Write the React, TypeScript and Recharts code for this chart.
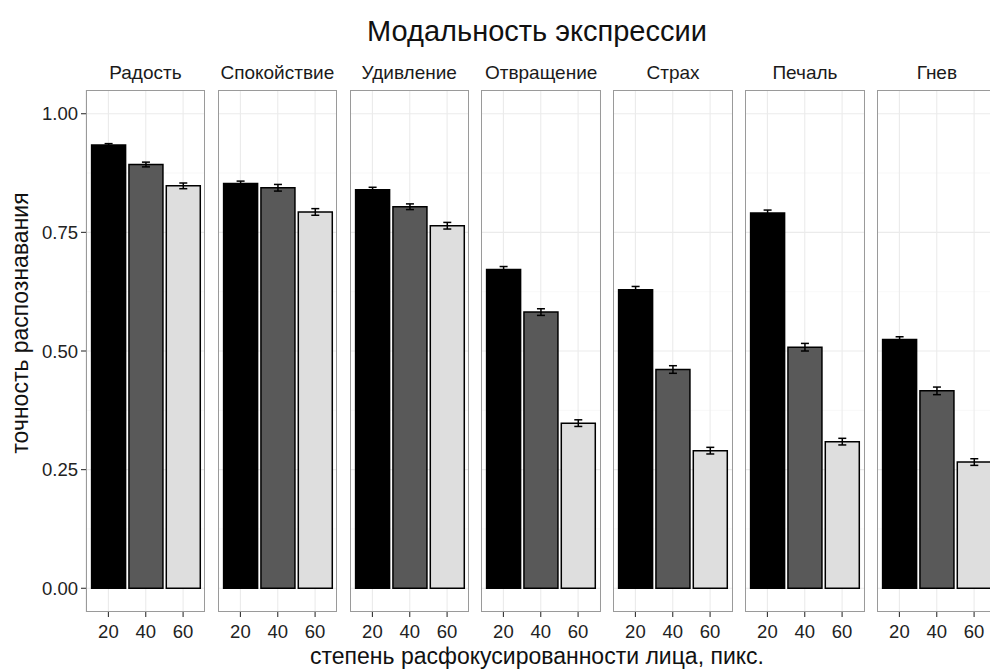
import { BarChart, Bar, XAxis, YAxis, CartesianGrid, Cell, ErrorBar } from 'recharts';

const emotions = ['Радость', 'Спокойствие', 'Удивление', 'Отвращение', 'Страх', 'Печаль', 'Гнев'];
const levels = ['20', '40', '60'];

// mean accuracy per blur level, one value per emotion
const acc20 = [0.934, 0.853, 0.840, 0.672, 0.629, 0.791, 0.524];
const acc40 = [0.893, 0.844, 0.804, 0.582, 0.461, 0.508, 0.416];
const acc60 = [0.848, 0.793, 0.764, 0.348, 0.290, 0.309, 0.266];

// standard errors
const err20 = [0.003, 0.005, 0.005, 0.006, 0.007, 0.006, 0.006];
const err40 = [0.005, 0.007, 0.006, 0.007, 0.008, 0.008, 0.008];
const err60 = [0.006, 0.007, 0.007, 0.007, 0.007, 0.007, 0.007];

const yTicks = [0, 0.25, 0.5, 0.75, 1];
const yMinor = [0.125, 0.375, 0.625, 0.875];

const fills = ['#000000', '#595959', '#dedede'];
const font = '"Liberation Sans", Arial, Helvetica, sans-serif';

// panel geometry
const PANEL_X0 = 85.7;
const PANEL_STEP = 131.9;
const PW = 119.5;
const PTOP = 90;
const PH = 522;
const YAXIS_W = 60;
const XAXIS_H = 40;
const pad = (PW / 3.2) * 0.1;

function facetData(i: number) {
  const accs = [acc20, acc40, acc60];
  const errs = [err20, err40, err60];
  return levels.map((lv, j) => ({ level: lv, value: accs[j][i], err: errs[j][i] }));
}

function Facet({ index }: { index: number }) {
  const first = index === 0;
  const left = PANEL_X0 + index * PANEL_STEP - (first ? YAXIS_W : 0);
  const data = facetData(index);
  return (
    <div style={{ position: 'absolute', left, top: PTOP }}>
      <BarChart
        width={PW + (first ? YAXIS_W : 0)}
        height={PH + XAXIS_H}
        data={data}
        margin={{ top: 0, right: 0, bottom: 0, left: 0 }}
        barCategoryGap="5%"
        baseValue={0}
      >
        <CartesianGrid
          stroke="#f4f4f4"
          strokeWidth={0.6}
          vertical={false}
          horizontalValues={yMinor}
        />
        <CartesianGrid stroke="#ebebeb" strokeWidth={1.1} horizontalValues={yTicks} />
        <XAxis
          dataKey="level"
          height={XAXIS_H}
          padding={{ left: pad, right: pad }}
          axisLine={false}
          tickLine={{ stroke: '#333', strokeWidth: 1.1 }}
          tickSize={5}
          tickMargin={8}
          tick={{ fill: '#222', fontSize: 18.5, fontFamily: font }}
          interval={0}
        />
        <YAxis
          hide={!first}
          width={YAXIS_W}
          type="number"
          domain={[-0.05, 1.05]}
          allowDataOverflow
          ticks={yTicks}
          tickFormatter={(v: number) => v.toFixed(2)}
          axisLine={false}
          tickLine={{ stroke: '#333', strokeWidth: 1.1 }}
          tickSize={5}
          tickMargin={3}
          tick={{ fill: '#222', fontSize: 18.5, fontFamily: font }}
        />
        <Bar dataKey="value" stroke="#000" strokeWidth={1.5} isAnimationActive={false}>
          {data.map((d, j) => (
            <Cell key={d.level} fill={fills[j]} />
          ))}
          <ErrorBar dataKey="err" width={4} stroke="#000" strokeWidth={1.5} isAnimationActive={false} />
        </Bar>
      </BarChart>
      <div
        style={{
          position: 'absolute',
          left: first ? YAXIS_W : 0,
          top: 0,
          width: PW,
          height: PH,
          boxSizing: 'border-box',
          border: '1.3px solid #9a9a9a',
          pointerEvents: 'none',
        }}
      />
    </div>
  );
}

export default function App() {
  const centerX = 537;
  const yTitleY = 323;
  return (
    <div
      style={{
        position: 'absolute',
        left: 0,
        top: 0,
        width: 990,
        height: 670,
        overflow: 'hidden',
        background: '#fff',
        fontFamily: font,
      }}
    >
      <svg width={990} height={670} style={{ position: 'absolute', left: 0, top: 0 }}>
        <text x={centerX} y={31} textAnchor="middle" dominantBaseline="central" fontSize={29} fill="#111">
          Модальность экспрессии
        </text>
        {emotions.map((e, i) => (
          <text
            key={e}
            x={PANEL_X0 + i * PANEL_STEP + PW / 2}
            y={72}
            textAnchor="middle"
            dominantBaseline="central"
            fontSize={19}
            fill="#1a1a1a"
          >
            {e}
          </text>
        ))}
        <text
          x={20}
          y={yTitleY}
          textAnchor="middle"
          dominantBaseline="central"
          fontSize={23}
          fill="#111"
          transform={`rotate(-90 20 ${yTitleY})`}
        >
          точность распознавания
        </text>
        <text x={centerX} y={656} textAnchor="middle" dominantBaseline="central" fontSize={23} fill="#111">
          степень расфокусированности лица, пикс.
        </text>
      </svg>
      {emotions.map((e, i) => (
        <Facet key={e} index={i} />
      ))}
    </div>
  );
}
